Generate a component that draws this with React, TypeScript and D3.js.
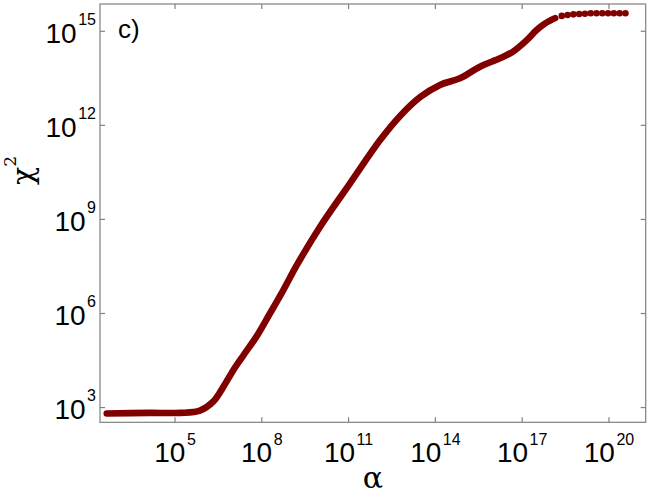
import React from "react";
import * as d3 from "d3";

// Read values (log10 exponents) of the dense, continuous part of the curve
const logAlpha = [2.64, 4.14, 5.17, 5.86, 6.31, 6.67, 7.02, 7.36, 7.82, 8.28, 8.74, 9.21, 10.01, 11.05, 12.09, 12.78, 13.47, 14.16, 14.85, 15.54, 16.23, 16.68, 17.16, 17.5, 17.79, 18.14];
const logChi2 = [2.81, 2.83, 2.83, 2.9, 3.18, 3.66, 4.2, 4.66, 5.27, 6.0, 6.74, 7.54, 8.76, 10.15, 11.53, 12.3, 12.9, 13.29, 13.5, 13.87, 14.14, 14.35, 14.72, 15.04, 15.25, 15.42];

// Sparse tail: individual markers
const tailLogAlpha = [18.37, 18.57, 18.77, 18.97, 19.17, 19.37, 19.57, 19.77, 19.97, 20.17, 20.37, 20.57];
const tailLogChi2 = [15.49, 15.52, 15.54, 15.55, 15.56, 15.575, 15.575, 15.575, 15.575, 15.575, 15.575, 15.575];

const xTickExps = [5, 8, 11, 14, 17, 20];
const yTickExps = [3, 6, 9, 12, 15];

const W = 664, H = 498;
const L = 100, R = 645.7, T = 4, B = 422.3;
const COLOR = "#800000";
const AXIS = "#808080";

export default function App() {
  const x = d3.scaleLog().domain([10 ** 2.407, 10 ** 21.27]).range([L, R]);
  const y = d3.scaleLog().domain([10 ** 2.53, 10 ** 15.87]).range([B, T]);

  const pts: [number, number][] = logAlpha.map((a, i) => [x(10 ** a), y(10 ** logChi2[i])]);
  const line = d3.line().curve(d3.curveCatmullRom.alpha(0.5))(pts) || "";
  const tail = tailLogAlpha.map((a, i) => [x(10 ** a), y(10 ** tailLogChi2[i])]);

  const tick = 5;
  return (
    <svg width={W} height={H} style={{ position: "absolute", left: 0, top: 0, background: "#fff" }}>
      <rect x={0} y={0} width={W} height={H} fill="#fff" />
      {/* data */}
      <path d={line} fill="none" stroke={COLOR} strokeWidth={6.6} strokeLinecap="round" strokeLinejoin="round" />
      {tail.map((p, i) => (
        <circle key={i} cx={p[0]} cy={p[1]} r={3.3} fill={COLOR} />
      ))}
      {/* frame */}
      <rect x={L} y={T} width={R - L} height={B - T} fill="none" stroke={AXIS} strokeWidth={1.2} />
      {xTickExps.map((e) => {
        const px = x(10 ** e);
        return (
          <g key={"x" + e}>
            <line x1={px} x2={px} y1={B} y2={B - tick} stroke={AXIS} strokeWidth={1.2} />
            <line x1={px} x2={px} y1={T} y2={T + tick} stroke={AXIS} strokeWidth={1.2} />
            <text x={px} y={461.7} textAnchor="middle" fontFamily="Liberation Sans, Arial, sans-serif" fontSize={28} fill="#000">
              10<tspan dx={1.5} dy={-16.7} fontSize={16}>{e}</tspan>
            </text>
          </g>
        );
      })}
      {yTickExps.map((e) => {
        const py = y(10 ** e);
        return (
          <g key={"y" + e}>
            <line x1={L} x2={L + tick} y1={py} y2={py} stroke={AXIS} strokeWidth={1.2} />
            <line x1={R} x2={R - tick} y1={py} y2={py} stroke={AXIS} strokeWidth={1.2} />
            <text x={96} y={py + 11.6} textAnchor="end" fontFamily="Liberation Sans, Arial, sans-serif" fontSize={28} fill="#000">
              10<tspan dx={1.5} dy={-18.3} fontSize={16}>{e}</tspan>
            </text>
          </g>
        );
      })}
      {/* labels */}
      <text x={118} y={38.3} fontFamily="Liberation Sans, Arial, sans-serif" fontSize={26} fill="#000">c)</text>
      <text x={373} y={488} textAnchor="middle" fontFamily="DejaVu Serif, serif" fontSize={30} fill="#000">α</text>
      <text transform="translate(33,185) rotate(-90)" fontFamily="DejaVu Serif, serif" fontSize={30} fill="#000">
        χ<tspan dy={-17} fontSize={17}>2</tspan>
      </text>
    </svg>
  );
}
